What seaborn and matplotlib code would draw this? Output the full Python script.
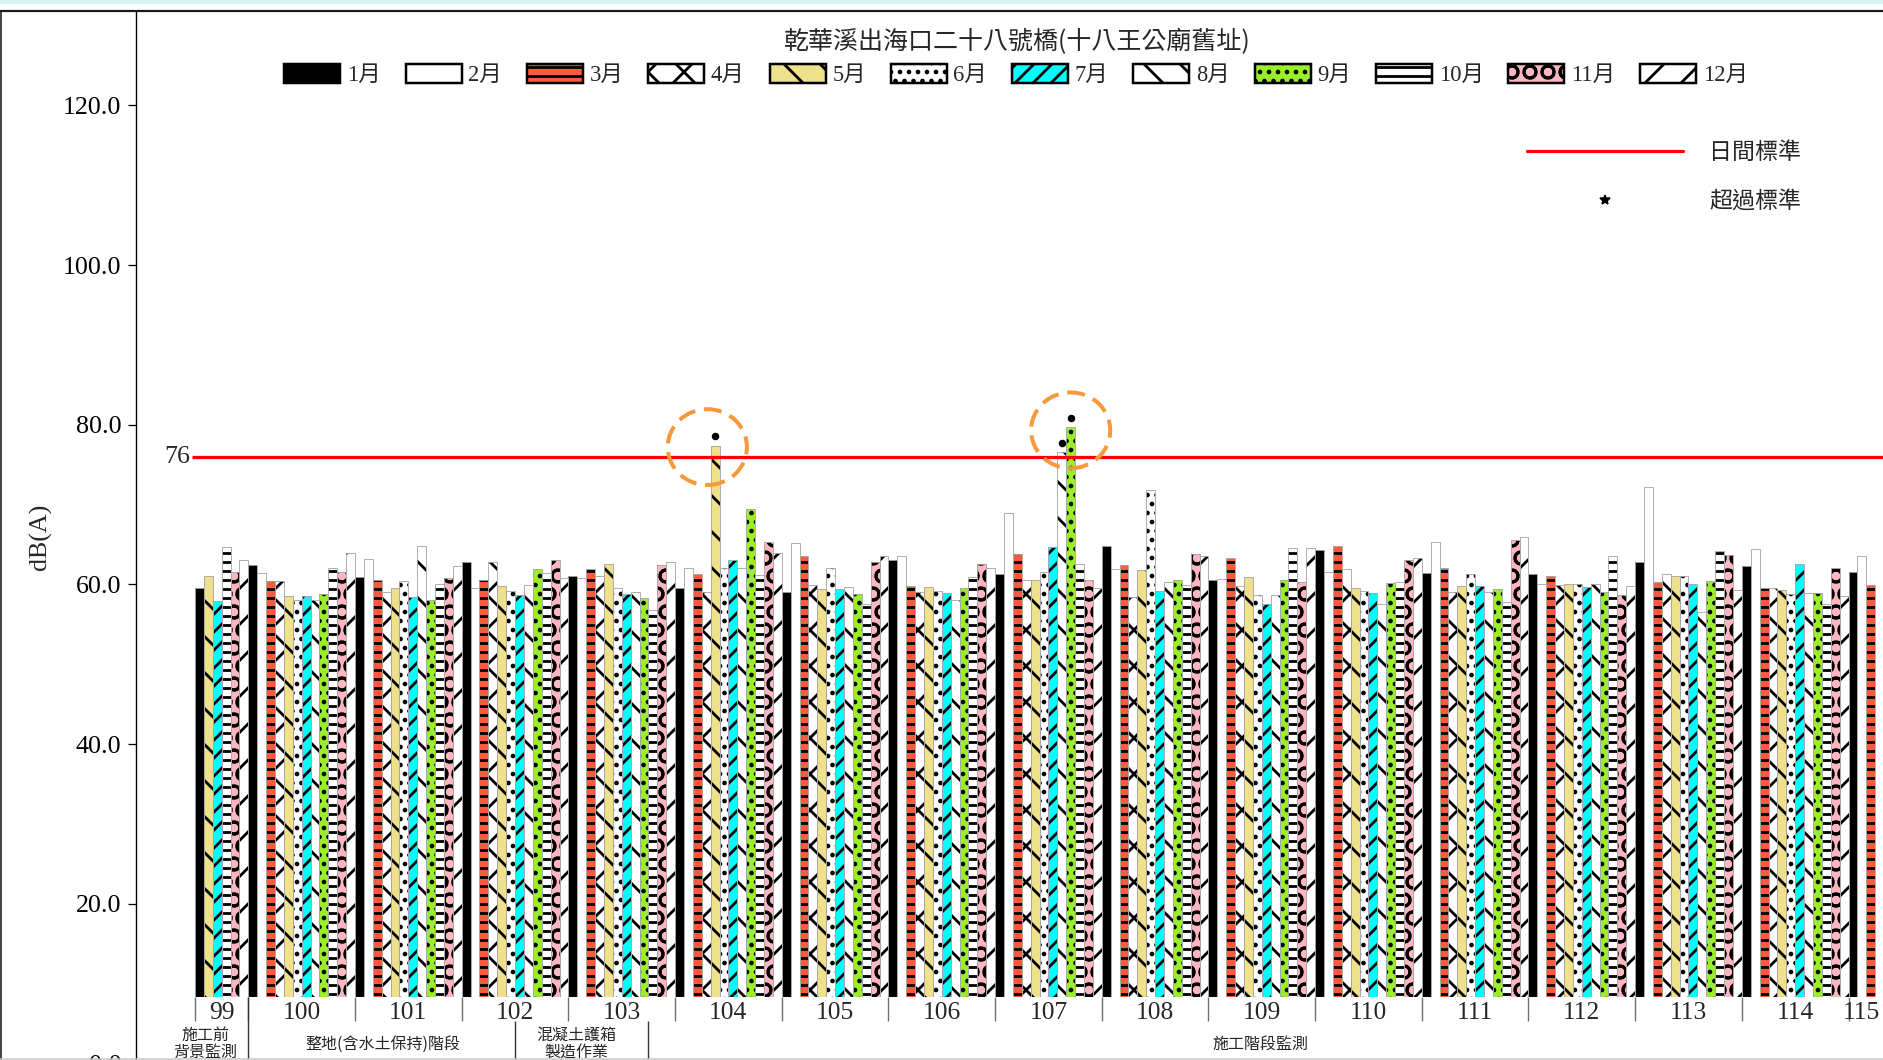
import numpy as np
import pandas as pd
import matplotlib
matplotlib.use('Agg')
import matplotlib.pyplot as plt
import seaborn as sns
from matplotlib.patches import Patch, Rectangle, Ellipse
from matplotlib.lines import Line2D
from matplotlib.ticker import FormatStrFormatter

# ---------------- data ----------------
title = '乾華溪出海口二十八號橋(十八王公廟舊址)'
month_labels = ['1月', '2月', '3月', '4月', '5月', '6月', '7月', '8月', '9月', '10月', '11月', '12月']
years = ['99', '100', '101', '102', '103', '104', '105', '106', '107', '108',
         '109', '110', '111', '112', '113', '114', '115']
full_year = [1, 2, 3, 4, 5, 6, 7, 8, 9, 10, 11, 12]
months_99 = [1, 5, 7, 10, 11, 12]
months_115 = [1, 2, 3]

vals_99 = [59.6, 61.0, 57.9, 64.7, 61.5, 63.0]
vals_100 = [62.45, 61.4, 60.4, 60.4, 58.5, 58.1, 58.6, 58.1, 58.8, 62.1, 61.5, 63.9]
vals_101 = [60.95, 63.2, 60.6, 59.1, 59.6, 60.4, 58.4, 64.8, 58.1, 60.0, 60.8, 62.3]
vals_102 = [62.8, 59.6, 60.6, 62.8, 59.8, 59.2, 58.7, 59.9, 61.9, 61.4, 63.0, 60.8]
vals_103 = [61.05, 60.8, 61.9, 61.1, 62.6, 59.6, 58.8, 59.0, 58.3, 56.8, 62.4, 62.85]
vals_104 = [59.6, 62.1, 61.3, 59.1, 77.4, 62.1, 63.0, 62.0, 69.45, 61.2, 65.35, 63.9]
vals_105 = [59.1, 65.15, 63.6, 59.9, 59.4, 62.0, 59.4, 59.7, 58.8, 57.5, 62.8, 63.5]
vals_106 = [63.1, 63.5, 59.8, 59.1, 59.7, 59.2, 58.9, 58.1, 59.6, 60.9, 62.55, 62.1]
vals_107 = [61.3, 69.0, 63.8, 60.55, 60.5, 61.5, 64.65, 76.55, 79.7, 62.55, 60.5, 59.6]
vals_108 = [64.85, 61.9, 62.4, 58.4, 61.8, 71.8, 59.2, 60.3, 60.5, 59.9, 63.8, 63.55]
vals_109 = [60.6, 60.7, 63.35, 59.8, 60.9, 58.7, 57.5, 58.7, 60.5, 64.5, 60.3, 64.5]
vals_110 = [64.3, 61.5, 64.85, 61.9, 59.6, 59.2, 58.9, 57.5, 60.2, 60.25, 63.0, 63.3]
vals_111 = [61.4, 65.35, 62.0, 59.0, 59.8, 61.25, 59.8, 59.0, 59.4, 57.8, 65.5, 66.0]
vals_112 = [61.25, 60.0, 61.0, 59.9, 60.05, 60.05, 59.7, 60.1, 59.0, 63.6, 58.7, 59.8]
vals_113 = [62.8, 72.2, 60.25, 61.25, 61.0, 61.05, 60.05, 56.6, 60.4, 64.2, 63.7, 59.3]
vals_114 = [62.35, 64.4, 59.5, 59.5, 59.3, 58.8, 62.55, 58.96, 58.96, 57.5, 62.0, 58.6]
vals_115 = [61.6, 63.55, 59.9]

standard = 76
exceed_offset = 1.2

phase_lines = [['施工前', '背景監測'], ['整地(含水土保持)階段'], ['混凝土護箱', '製造作業'], ['施工階段監測']]
phase_start_slots = [0, 6, 36, 51]

year_months = [months_99] + [full_year] * 15 + [months_115]
year_values = [vals_99, vals_100, vals_101, vals_102, vals_103, vals_104, vals_105,
               vals_106, vals_107, vals_108, vals_109, vals_110, vals_111, vals_112,
               vals_113, vals_114, vals_115]

rows = []
slot = 0
for yr, ms, vs in zip(years, year_months, year_values):
    for m, v in zip(ms, vs):
        rows.append({'slot': slot, 'year': yr, 'month': month_labels[m - 1], 'value': v})
        slot += 1
df = pd.DataFrame(rows)

# ---------------- styles ----------------
face = {'1月': '#000000', '2月': '#ffffff', '3月': '#ff5a3c', '4月': '#ffffff',
        '5月': '#efe08c', '6月': '#ffffff', '7月': '#00ffff', '8月': '#ffffff',
        '9月': '#9bef2a', '10月': '#ffffff', '11月': '#ffb6c1', '12月': '#ffffff'}
hatch = {'1月': '', '2月': '', '3月': '--', '4月': 'x', '5月': '\\', '6月': '..',
         '7月': '//', '8月': '\\', '9月': '..', '10月': '--', '11月': 'O', '12月': '/'}

DPI = 108
W, H = 1883, 1060
PT = 72.0 / DPI

sns.set_theme(style='white')
plt.rcParams['font.family'] = ['Liberation Serif', 'Noto Sans CJK TC']
plt.rcParams['hatch.linewidth'] = 2.8 * PT
plt.rcParams['axes.unicode_minus'] = False

fig = plt.figure(figsize=(W / DPI, H / DPI), dpi=DPI)
fig.patch.set_facecolor('white')

ax_l, ax_r, ax_t, ax_b = 136, 1883, 10.5, 1063.3
ax = fig.add_axes([ax_l / W, 1 - ax_b / H, (ax_r - ax_l) / W, (ax_b - ax_t) / H])
ax.set_facecolor('white')

sns.barplot(data=df, x='slot', y='value', hue='month', hue_order=month_labels,
            palette=face, dodge=False, width=1.0, saturation=1, errorbar=None,
            legend=False, edgecolor='black', linewidth=0, ax=ax)

for lab, cont in zip(month_labels, ax.containers):
    for p in cont.patches:
        p.set_hatch(hatch[lab])
        p.set_zorder(1)
        ax.add_patch(Rectangle(p.get_xy(), p.get_width(), p.get_height(), fill=False,
                               edgecolor='#a8a8a8', lw=0.9 * PT, zorder=1.2))

base = 8.35
ax.add_patch(Rectangle((-8, -2), 200, base + 2, facecolor='white', edgecolor='none', zorder=1.5))

ax.set_xlim(-7.14, 189.38)
ax.set_ylim(0, 131.9)
ax.set_xticks([])
ax.set_yticks([0, 20, 40, 60, 80, 100, 120])
ax.yaxis.set_major_formatter(FormatStrFormatter('%.1f'))
ax.tick_params(axis='y', direction='out', length=7.6 * PT, width=1.3 * PT, pad=7 * PT,
               labelsize=26 * PT, colors='black', left=True)
for s in ['top', 'right', 'bottom']:
    ax.spines[s].set_visible(False)
ax.spines['left'].set_color('black')
ax.spines['left'].set_linewidth(1.4 * PT)
ax.set_xlabel('')
ax.set_ylabel('')

# standard line
ax.hlines(standard, -0.84, 189.38, color='#ff0000', lw=3.2 * PT, zorder=3)
ax.text(-1.06, standard, str(standard), ha='right', va='center', fontsize=26 * PT, zorder=4)

# exceedance markers
ex = df[df['value'] > standard]
ax.plot(ex['slot'], ex['value'] + exceed_offset, 'o', color='black', ms=6 * PT, zorder=5)

# dashed highlight circles
circle_centers = [(57.13, 77.2), (98.0, 79.3)]
for cx, cy in circle_centers:
    ax.add_patch(Ellipse((cx, cy), 8.9, 9.5, fill=False, edgecolor='#f7993a',
                         lw=4 * PT, ls=(0, (4.5, 2.2)), zorder=4))

# year ticks and labels
counts = [len(m) for m in year_months]
edges = np.concatenate([[0], np.cumsum(counts)]) - 0.5
ax.vlines(edges[:-1], 5.3, base, color='#707070', lw=1.4 * PT, zorder=3)
for i, yr in enumerate(years):
    cx = (edges[i] + edges[i + 1]) / 2
    ax.text(cx, 6.3, yr, ha='center', va='center', fontsize=25.5 * PT, zorder=4)

# phase separators and labels
for st in phase_start_slots[1:]:
    ax.vlines(st - 0.5, 0.6, 5.3, color='#333333', lw=1.4 * PT, zorder=3)
ax.vlines(phase_start_slots[1] - 0.5, 5.3, base, color='#333333', lw=1.4 * PT, zorder=3)

phase_x = [0.62, 20.65, 42.4, 119.3]
phase_y = {1: [2.35], 2: [3.5, 1.38]}
for lines, px in zip(phase_lines, phase_x):
    for txt, py in zip(lines, phase_y[len(lines)]):
        ax.text(px, py, txt, ha='center', va='center', fontsize=16 * PT,
                family=['Noto Sans CJK TC', 'Liberation Serif'], zorder=4)

# figure decorations
fig.patches.append(Rectangle((0, 1 - 3.5 / H), 1, 3.5 / H, transform=fig.transFigure,
                             facecolor='#d6f5f2', edgecolor='none', zorder=0))
fig.add_artist(Line2D([0, 1], [1 - 10.5 / H, 1 - 10.5 / H], transform=fig.transFigure,
                      color='#1a1a1a', lw=2.2 * PT))
fig.add_artist(Line2D([0.8 / W, 0.8 / W], [0, 1 - 10.5 / H], transform=fig.transFigure,
                      color='#1a1a1a', lw=1.6 * PT))
fig.add_artist(Line2D([0, 1], [1 - 1058.5 / H, 1 - 1058.5 / H], transform=fig.transFigure,
                      color='#c8c8c8', lw=1.5 * PT))

fig.text(40 / W, 1 - 537 / H, 'dB(A)', rotation=90, ha='center', va='center', fontsize=26 * PT)
fig.text(1017 / W, 1 - 41.7 / H, title, ha='center', va='center', fontsize=25 * PT,
         family=['Noto Sans CJK TC', 'Liberation Serif'])

handles = [Patch(facecolor=face[m], edgecolor='black', hatch=hatch[m], linewidth=2.5 * PT)
           for m in month_labels]
fig.legend(handles, month_labels, loc='center', bbox_to_anchor=(1016 / W, 1 - 75 / H),
           ncol=12, frameon=False, fontsize=22.5 * PT, handlelength=2.49, handleheight=0.89,
           handletextpad=0.3, columnspacing=1.1, borderaxespad=0, borderpad=0)

h2 = [Line2D([0], [0], color='#ff0000', lw=3.2 * PT),
      Line2D([0], [0], ls='none', marker='*', color='black', ms=10.7 * PT)]
fig.legend(h2, ['日間標準', '超過標準'], loc='center', bbox_to_anchor=(1664 / W, 1 - 177 / H),
           frameon=False, handlelength=6.8, handletextpad=1.13,
           labelspacing=1.16, borderaxespad=0, borderpad=0,
           prop={'family': ['Noto Sans CJK TC', 'Liberation Serif'], 'size': 23 * PT})

fig.savefig('out.png', dpi=DPI, facecolor='white')
